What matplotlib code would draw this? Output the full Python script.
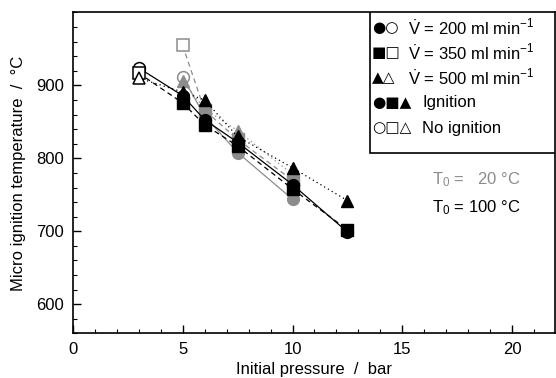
import matplotlib
matplotlib.use("Agg")
import matplotlib.pyplot as plt
from matplotlib.patches import Rectangle
from matplotlib.ticker import MultipleLocator

plt.rcParams['font.family'] = ['Liberation Sans', 'DejaVu Sans']
plt.rcParams['mathtext.fontset'] = 'custom'
plt.rcParams['mathtext.rm'] = 'Liberation Sans'
plt.rcParams['mathtext.it'] = 'Liberation Sans'
plt.rcParams['font.size'] = 12

# Daten: Zuendtemperatur ueber Anfangsdruck
p100 = [3, 5, 6, 7.5, 10, 12.5]
t100_200 = [924, 886, 853, 822, 764, 699]
t100_350 = [917, 876, 846, 817, 758, 702]
t100_500 = [910, 891, 880, 830, 787, 742]

p20 = [5, 6, 7.5, 10]
t20_200 = [912, 858, 808, 744]
t20_350 = [955, 866, 826, 770]
t20_500 = [906, 868, 838, 778]

# erster Punkt jeweils: keine Zuendung (offen)
n_open100 = 1
n_open20 = {'200': 1, '350': 1, '500': 0}

grau = '#8c8c8c'
ms = 8.5
fs = 12

fig = plt.figure(figsize=(5.56, 3.78), dpi=100)
ax = fig.add_axes([0.1307, 0.118, 0.8675, 0.849])

def serie(x, y, farbe, marker, ls, n_open, z):
    ax.plot(x, y, color=farbe, ls=ls, lw=0.9, zorder=z)
    if n_open > 0:
        ax.plot(x[:n_open], y[:n_open], ls='none', marker=marker, ms=ms,
                mfc='white', mec=farbe, mew=1.1, zorder=z + 1)
    ax.plot(x[n_open:], y[n_open:], ls='none', marker=marker, ms=ms,
            mfc=farbe, mec=farbe, zorder=z + 1)

# 20 °C grau
serie(p20, t20_200, grau, 'o', '-', n_open20['200'], 2)
serie(p20, t20_350, grau, 's', (0, (4, 3)), n_open20['350'], 2)
serie(p20, t20_500, grau, '^', (0, (1, 2.5)), n_open20['500'], 2)
# 100 °C schwarz
serie(p100, t100_200, 'black', 'o', '-', n_open100, 4)
serie(p100, t100_350, 'black', 's', (0, (4, 3)), n_open100, 4)
serie(p100, t100_500, 'black', '^', (0, (1, 2.5)), n_open100, 4)

ax.set_xlim(0, 21.94)
ax.set_ylim(560, 1000)
ax.xaxis.set_major_locator(MultipleLocator(5))
ax.xaxis.set_minor_locator(MultipleLocator(1))
ax.yaxis.set_minor_locator(MultipleLocator(20))
ax.set_yticks([600, 700, 800, 900])
ax.tick_params(which='major', direction='in', length=6, width=1, labelsize=fs, pad=6.5)
ax.tick_params(which='minor', direction='in', length=3, width=0.8)
for s in ax.spines.values():
    s.set_linewidth(1.2)
ax.set_xlabel("Initial pressure  /  bar", fontsize=fs, labelpad=3)
ax.set_ylabel("Micro ignition temperature  /  °C", fontsize=fs, labelpad=7)

# Legende von Hand
ax.add_patch(Rectangle((0.617, 0.561), 0.383, 0.439, transform=ax.transAxes,
                       fc='white', ec='black', lw=1.2, zorder=10))
sym = ['●○', '■□', '▲△', '●■▲', '○□△']
txt = [r'$\dot{\mathrm{V}}$ = 200 ml min$^{\mathrm{-1}}$',
       r'$\dot{\mathrm{V}}$ = 350 ml min$^{\mathrm{-1}}$',
       r'$\dot{\mathrm{V}}$ = 500 ml min$^{\mathrm{-1}}$',
       'Ignition', 'No ignition']
tx = [0.696, 0.696, 0.696, 0.725, 0.725]
for i in range(5):
    yy = 0.952 - i * 0.078
    ax.text(0.620, yy, sym[i], transform=ax.transAxes, fontsize=11,
            family=['DejaVu Sans'], va='center', ha='left', zorder=11)
    ax.text(tx[i], yy, txt[i], transform=ax.transAxes, fontsize=fs,
            va='center', ha='left', zorder=11)

ax.text(0.745, 0.478, r'T$_{\mathrm{0}}$ =   20 °C', transform=ax.transAxes,
        color=grau, fontsize=fs, va='center', ha='left')
ax.text(0.745, 0.393, r'T$_{\mathrm{0}}$ = 100 °C', transform=ax.transAxes,
        color='black', fontsize=fs, va='center', ha='left')

fig.savefig("out.png", dpi=100)
